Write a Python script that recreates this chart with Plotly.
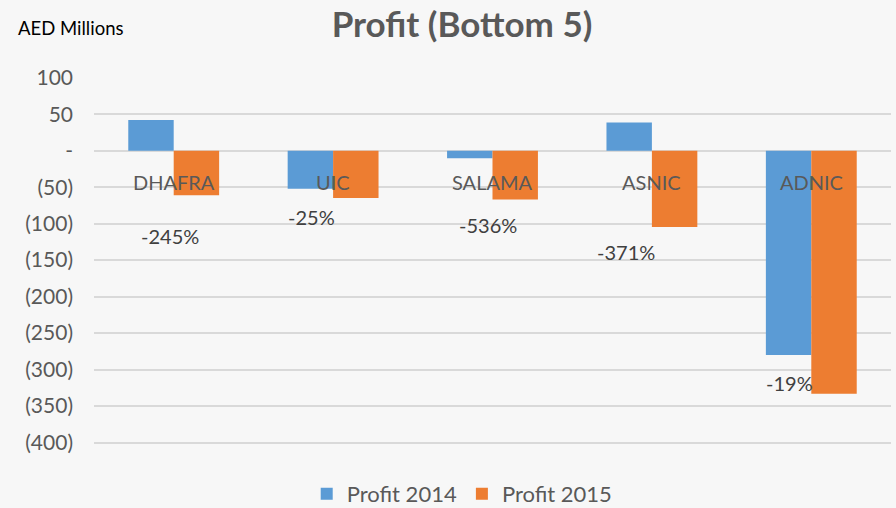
import plotly.graph_objects as go

categories = ["DHAFRA", "UIC", "SALAMA", "ASNIC", "ADNIC"]
profit_2014 = [42, -52, -10.5, 38.5, -280]
profit_2015 = [-61, -65, -66.8, -104.5, -333]
pct_labels = ["-245%", "-25%", "-536%", "-371%", "-19%"]
pct_label_y = [-116.5, -90.6, -101.5, -138.5, -319]
pct_label_xshift = [-4, -22, -5, -26, -22]
tick_vals = [100, 50, 0, -50, -100, -150, -200, -250, -300, -350, -400]
tick_text = ["100", "50", "-", "(50)", "(100)", "(150)", "(200)", "(250)", "(300)", "(350)", "(400)"]

FONT = "Lato"
GRAY = "#595959"

fig = go.Figure()
fig.add_trace(go.Bar(x=categories, y=profit_2014, name="Profit 2014",
                     marker=dict(color="#5b9bd5", line=dict(width=0))))
fig.add_trace(go.Bar(x=categories, y=profit_2015, name="Profit 2015",
                     marker=dict(color="#ed7d31", line=dict(width=0))))

annotations = []
for c in categories:
    annotations.append(dict(x=c, y=0, xref="x", yref="y", text=c, showarrow=False,
                            yanchor="middle", yshift=-31,
                            font=dict(family=FONT, size=20, color=GRAY)))
for c, t, yy, xs in zip(categories, pct_labels, pct_label_y, pct_label_xshift):
    annotations.append(dict(x=c, y=yy, xref="x", yref="y", text=t, showarrow=False,
                            yanchor="middle", xshift=xs,
                            font=dict(family=FONT, size=20, color="#404040")))
annotations.append(dict(x=(16 - 94) / 797, y=(444 - 28) / 367, xref="paper", yref="paper",
                        text="AED Millions", showarrow=False, xanchor="left", yanchor="middle",
                        font=dict(family=FONT, size=18.5, color="#000000")))

fig.update_layout(
    width=896, height=508,
    margin=dict(l=94, r=5, t=77, b=64, autoexpand=False),
    paper_bgcolor="#f7f7f7", plot_bgcolor="rgba(0,0,0,0)",
    barmode="group", bargap=0.43, bargroupgap=0,
    title=dict(text="<b>Profit (Bottom 5)</b>", x=462/896, xref="container", xanchor="center",
               y=1-25/508, yref="container", yanchor="middle",
               font=dict(family=FONT, size=35, color=GRAY)),
    legend=dict(orientation="h", x=0.462, xanchor="center", y=-0.136, yanchor="middle",
                font=dict(family=FONT, size=22, color=GRAY), bgcolor="rgba(0,0,0,0)",
                itemwidth=30, tracegroupgap=0),
    showlegend=True,
    annotations=annotations,
)

fig.update_xaxes(showticklabels=False, showgrid=False, zeroline=False, showline=False, ticks="")
fig.update_yaxes(range=[-402, 101], tickvals=tick_vals, ticktext=tick_text,
                 showgrid=True, gridcolor="#d9d9d9", gridwidth=1.5,
                 zeroline=True, zerolinecolor="#d9d9d9", zerolinewidth=1.5,
                 showline=False, ticks="", ticklabelstandoff=20,
                 tickfont=dict(family=FONT, size=21, color=GRAY))

fig.write_html("out.html", config={"displayModeBar": False},
               post_script="document.body.style.margin='0';document.body.style.overflow='hidden';")
